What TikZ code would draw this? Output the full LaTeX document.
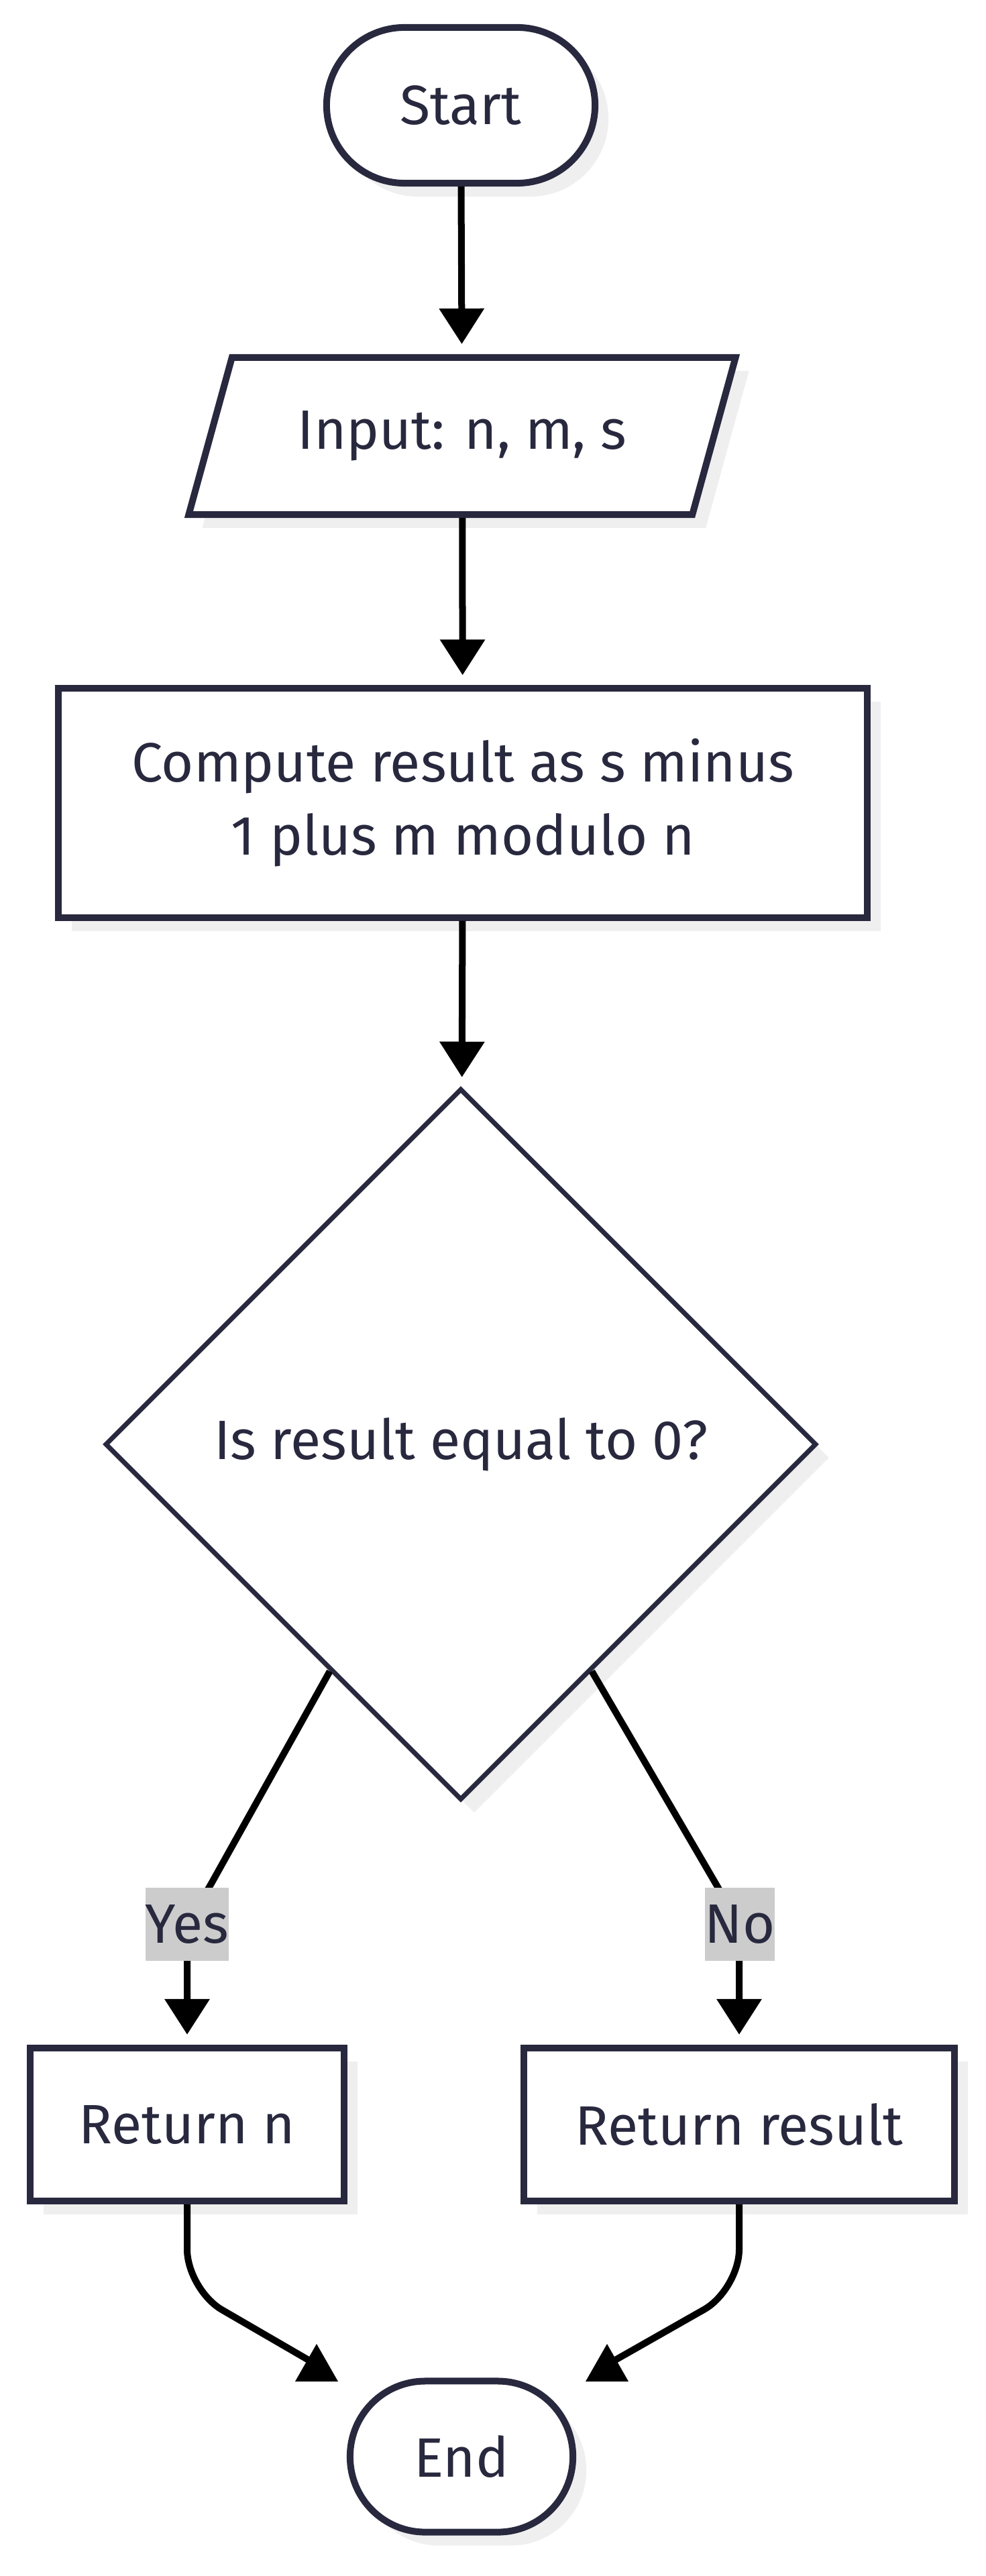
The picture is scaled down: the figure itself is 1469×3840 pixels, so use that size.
\documentclass[tikz,border=0pt]{standalone}
\usepackage{fontspec}
\setmainfont{Fira Sans}
\usetikzlibrary{shapes.geometric,shadows,arrows.meta}

\definecolor{inkline}{HTML}{28283E}
\definecolor{shade}{HTML}{EFEFEF}
\definecolor{tagfill}{HTML}{CCCCCC}

\begin{document}
\begin{tikzpicture}[x=0.01cm, y=-0.01cm,
    every node/.style={text=inkline, font=\fontsize{23.5}{31}\selectfont, align=center},
    box/.style={draw=inkline, line width=1mm, fill=white,
      drop shadow={shadow xshift=2mm, shadow yshift=-2mm, fill=shade, opacity=1}},
    terminal/.style={box, rectangle, rounded corners=1.13cm, minimum height=2.26cm},
    io/.style={box, trapezium, trapezium left angle=63.8, trapezium right angle=116.2,
      trapezium stretches=true, minimum width=8.16cm, minimum height=2.34cm},
    process/.style={box, rectangle, minimum height=2.28cm},
    decision/.style={box, diamond, aspect=1, line width=0.7mm, minimum width=10.6cm, minimum height=10.6cm},
    tag/.style={fill=tagfill, inner xsep=0pt, minimum height=1.09cm},
    conn/.style={line width=1mm, -{Triangle[length=5.3mm,width=6.5mm]}, shorten >=1.5mm},
    link/.style={line width=1mm, rounded corners=6mm}
    ]
    \useasboundingbox (0,0) rectangle (1469,3840);

    \node[terminal, minimum width=4cm, minimum height=2.32cm, rounded corners=1.16cm] (start) at (687,157) {Start};
    \node[io] (inp) at (689,650) {Input: n, m, s};
    \node[process, minimum width=12.05cm, minimum height=3.41cm] (comp) at (690,1197)
      {Compute result as s minus\\1 plus m modulo n};
    \node[decision] (dec) at (687,2153) {Is result equal to 0?};
    \node[process, minimum width=4.68cm] (retn) at (279,3167) {Return n};
    \node[process, minimum width=6.41cm] (retr) at (1102,3167) {Return result};
    \node[terminal, minimum width=3.32cm, minimum height=2.25cm, rounded corners=1.12cm] (stop) at (688,3662) {End};

    \draw[conn] (start) -- (inp);
    \draw[conn] (inp) -- (comp);
    \draw[conn] (comp) -- (dec);
    \draw[conn] (dec.240) -- (316,2806) to[out=-120,in=90] (279,2905) -- (retn);
    \draw[conn] (dec.300) -- (1066,2806) to[out=-60,in=90] (1102,2905) -- (retr);
    \node[tag] (yes) at (279,2868) {Yes};
    \node[tag] (no) at (1103,2868) {No};

    % joins into End
    \coordinate (endL) at (472,3525);
    \coordinate (endR) at (905,3525);
    \draw[link] (retn) -- (279,3413) -- (endL);
    \draw[link] (retr) -- (1102,3413) -- (endR);
    \fill (endL) ++(-32,25) -- ++(64,0) -- ++(-32,-56) -- cycle;
    \fill (endR) ++(-32,25) -- ++(64,0) -- ++(-32,-56) -- cycle;
  \end{tikzpicture}
\end{document}
